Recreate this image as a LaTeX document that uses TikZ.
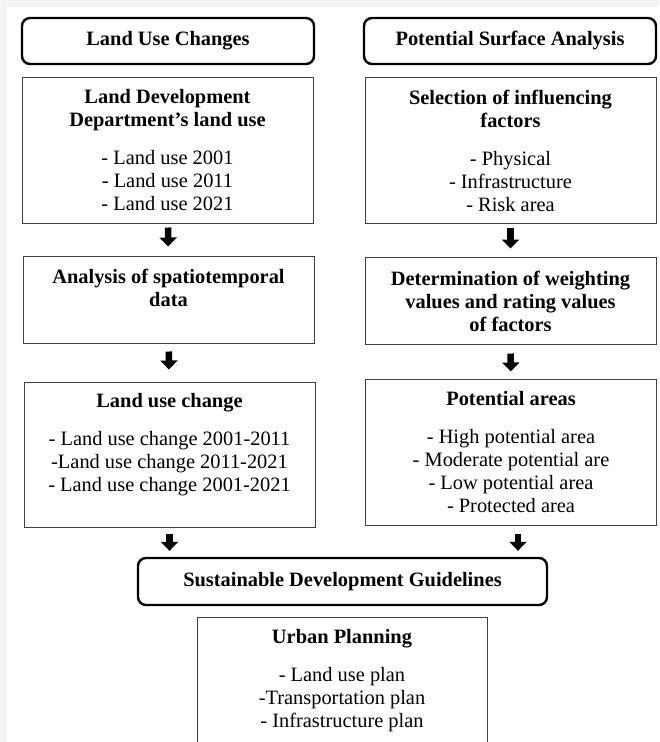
\documentclass[tikz,border=0pt]{standalone}
\usepackage{fontspec}
\setmainfont{Liberation Serif}
\usepackage{tikz}
\usetikzlibrary{arrows.meta}
\usepackage{xcolor}

\definecolor{pagegray}{HTML}{F3F3F3}
\newcommand{\flowfont}{\fontsize{20.4pt}{23pt}\selectfont}

\tikzset{
  header/.style={draw, line width=2.4pt, rounded corners=8pt, minimum width=292pt,
    minimum height=46pt, inner sep=0pt, font=\flowfont\bfseries},
  frame/.style={draw=black!75, line width=1pt, minimum width=291pt, inner sep=0pt},
  content/.style={anchor=north, align=center, inner sep=0pt, font=\flowfont},
  blockarrow/.style={line width=6.5pt, -{Triangle[width=17pt,length=9pt]}},
}

\begin{document}
\begin{tikzpicture}[x=1pt, y=-1pt]
    \useasboundingbox (0,0) rectangle (659,742);
    \clip (0,0) rectangle (659,742);
    \fill[pagegray] (0,0) rectangle (659,742);
    \fill[white] (7,7) rectangle (659,742);

    % column headers
    \node[header] (luc-head) at (168,41) {Land Use Changes};
    \node[header] (psa-head) at (510,41) {Potential Surface Analysis};

    % left column
    \node[frame, minimum height=146pt] (ldd) at (167.5,150) {};
    \node[content] (ldd-text) at ([yshift=-13pt]ldd.north)
        {\textbf{Land Development}\\\textbf{Department's land use}\\[15pt]
         - Land use 2001\\- Land use 2011\\- Land use 2021};

    \node[frame, minimum height=87pt] (asd) at (168.5,299.5) {};
    \node[content] (asd-text) at ([yshift=-13pt]asd.north)
        {\textbf{Analysis of spatiotemporal}\\\textbf{data}};

    \node[frame, minimum height=145pt] (luc) at (169.5,454.5) {};
    \node[content] (luc-text) at ([yshift=-12pt]luc.north)
        {\textbf{Land use change}\\[15pt]
         - Land use change 2001-2011\\-Land use change 2011-2021\\- Land use change 2001-2021};

    % right column
    \node[frame, minimum height=146pt] (sif) at (510.5,150) {};
    \node[content] (sif-text) at ([yshift=-13pt]sif.north)
        {\textbf{Selection of influencing}\\\textbf{factors}\\[15pt]
         - Physical\\- Infrastructure\\- Risk area};

    \node[frame, minimum height=87pt] (dwr) at (510.5,300.5) {};
    \node[content] (dwr-text) at ([yshift=-14pt]dwr.north)
        {\textbf{Determination of weighting}\\\textbf{values and rating values}\\\textbf{of factors}};

    \node[frame, minimum height=146pt] (pa) at (511,452) {};
    \node[content] (pa-text) at ([yshift=-13pt]pa.north)
        {\textbf{Potential areas}\\[15pt]
         - High potential area\\- Moderate potential are\\- Low potential area\\- Protected area};

    % guidelines and planning
    \node[header, minimum width=409pt, minimum height=47pt] (sdg) at (342.5,581.5)
        {Sustainable Development Guidelines};

    \node[frame, minimum width=290pt, minimum height=200pt, anchor=north] (up) at (342,617) {};
    \node[content] (up-text) at ([yshift=-12pt]up.north)
        {\textbf{Urban Planning}\\[15pt]
         - Land use plan\\-Transportation plan\\- Infrastructure plan};

    % arrows
    \draw[blockarrow, shorten <=4pt, shorten >=9pt] (ldd) -- (asd);
    \draw[blockarrow, shorten <=8pt, shorten >=12pt] (asd) -- (luc);
    \draw[blockarrow, shorten <=4pt, shorten >=8pt] (sif) -- (dwr);
    \draw[blockarrow, shorten <=9pt, shorten >=7pt] (dwr) -- (pa);
    \draw[blockarrow, shorten <=6pt, shorten >=6pt] (luc.south) -- (luc.south |- sdg.north);
    \draw[blockarrow, shorten <=8pt, shorten >=6pt] ([xshift=7pt]pa.south) -- ([xshift=7pt]pa.south |- sdg.north);
\end{tikzpicture}
\end{document}
